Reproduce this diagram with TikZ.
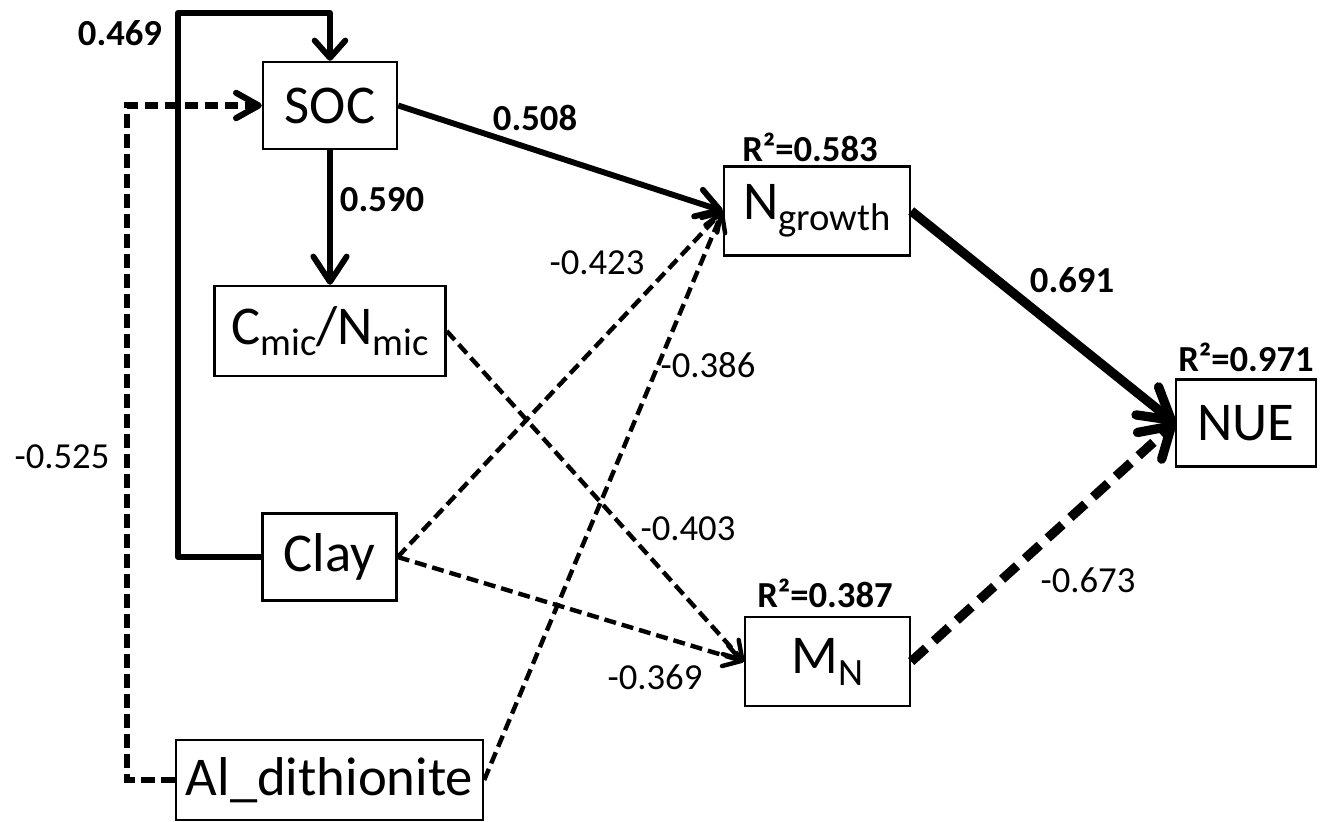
\documentclass[tikz,border=0pt]{standalone}
\usepackage{fontspec}
\setmainfont{Carlito}
\usetikzlibrary{arrows.meta}
\newcommand\lowsub[2]{\raisebox{#2}{\fontsize{29}{30}\selectfont #1}}
\begin{document}
\begin{tikzpicture}[x=0.75pt,y=-0.75pt,
  box/.style={draw,line width=1.8pt,inner sep=0pt,font=\fontsize{41}{45}\selectfont},
  lab/.style={font=\fontsize{27.5}{30}\selectfont,inner sep=0pt},
  blab/.style={font=\fontsize{27.5}{30}\selectfont\bfseries,inner sep=0pt},
  thin/.style={line width=3.3pt,dash pattern=on 9pt off 4.5pt,-{Straight Barb[length=13pt,width=16pt,round]}},
  medsolid/.style={line width=4.4pt,-{Straight Barb[length=17pt,width=21pt,round]}},
  meddash/.style={line width=4.6pt,dash pattern=on 10pt off 5pt},
  thicksolid/.style={line width=7pt,-{Straight Barb[length=23pt,width=27pt,round]}},
  thickdash/.style={line width=7pt,dash pattern=on 15pt off 8pt,-{Straight Barb[length=22pt,width=27pt,round]}}]
\useasboundingbox (0,0) rectangle (1334,821);

\node[box,minimum width=100.5pt,minimum height=65.25pt] (soc) at (330,105.5) {SOC};
\node[box,minimum width=173.25pt,minimum height=67.5pt] (cmic) at (330,331) {C\lowsub{mic}{-8pt}/N\lowsub{mic}{-8pt}};
\node[box,minimum width=100.5pt,minimum height=65.25pt] (clay) at (329.5,557) {Clay};
\node[box,minimum width=230.25pt,minimum height=60pt] (al) at (329.5,780) {Al\_dithionite};
\node[box,minimum width=139.5pt,minimum height=66.75pt] (ng) at (817,211) {N\lowsub{growth}{-8pt}};
\node[box,minimum width=123.75pt,minimum height=66.75pt] (mn) at (827.5,661.5) {M\lowsub{N}{-9pt}};
\node[box,minimum width=105pt,minimum height=65.25pt] (nue) at (1246,423) {NUE};

\coordinate (ctop) at (178,13);
\coordinate (atop) at (127,105.5);

\draw[line width=4.4pt,line join=round,-{Straight Barb[length=13pt,width=23pt,round]}] (clay.west) -| (ctop) -| (soc.north);
\draw[meddash,-{Straight Barb[length=17pt,width=19pt,round]}] (al.west) -| (atop) -- (soc.west);
\draw[medsolid] (soc.east) -- (ng.west);
\draw[line width=4.4pt,-{Straight Barb[length=19pt,width=25pt,round]}] (soc.south) -- (cmic.north);
\draw[thicksolid] (ng.east) -- (nue.west);
\draw[thickdash] (mn.east) -- (nue.west);
\draw[thin] (cmic.east) -- (mn.west);
\draw[thin] (clay.east) -- (mn.west);
\draw[thin] (clay.east) -- (ng.west);
\draw[thin] (al.east) -- (ng.west);

\node[blab] (l469) at (120,33) {0.469};
\node[blab] (l590) at (382,200) {0.590};
\node[blab] (l508) at (535,118) {0.508};
\node[blab] (r583) at (810,147) {R²=0.583};
\node[lab] (l423) at (597,263) {-0.423};
\node[lab] (l386) at (708,365) {-0.386};
\node[blab] (l691) at (1072,280) {0.691};
\node[blab] (r971) at (1246,357) {R²=0.971};
\node[lab] (l525) at (62,457) {-0.525};
\node[lab] (l403) at (688,529) {-0.403};
\node[blab] (r387) at (825,593) {R²=0.387};
\node[lab] (l369) at (655,677) {-0.369};
\node[lab] (l673) at (1088,580) {-0.673};
\end{tikzpicture}
\end{document}
